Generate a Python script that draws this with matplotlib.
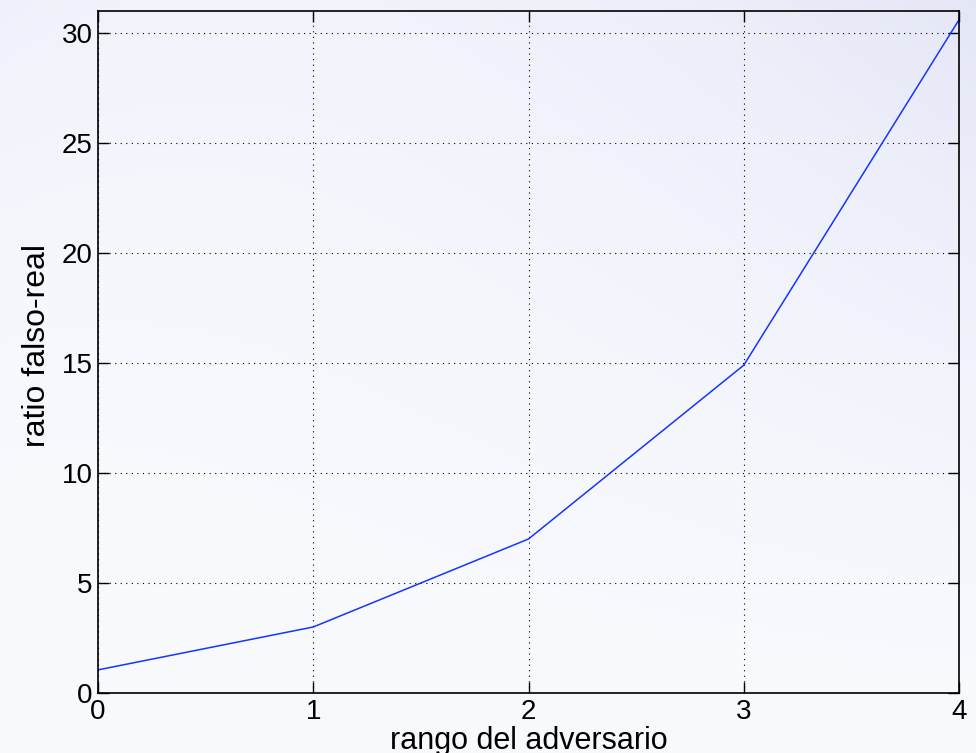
import matplotlib
matplotlib.use("Agg")
import matplotlib.pyplot as plt
import numpy as np

# datos
rango = [0, 1, 2, 3, 4]
ratio = [1.05, 3.0, 7.0, 14.9, 30.6]
yticks = [0, 5, 10, 15, 20, 25, 30]

plt.rcParams['font.family'] = ['Liberation Sans', 'DejaVu Sans']

fig = plt.figure(figsize=(9.76, 7.53), dpi=100)

# fondo degradado azulado
bg = fig.add_axes([0, 0, 1, 1], zorder=-10)
h, w = 753, 976
yy, xx = np.mgrid[0:1:h * 1j, 0:1:w * 1j]
t = 0.75 * ((1 - yy) * xx) ** 1.5 + 0.35 * ((1 - yy) * (1 - xx)) ** 2.5
t = np.clip(t, 0, 1)
light = np.array([0.975, 0.98, 0.995])
dark = np.array([0.87, 0.88, 0.96])
img = light[None, None, :] * (1 - t[..., None]) + dark[None, None, :] * t[..., None]
bg.imshow(img, aspect='auto', extent=[0, 1, 0, 1], origin='upper')
bg.axis('off')

ax = fig.add_axes([0.1004, 0.0797, 0.8822, 0.9057])
ax.patch.set_alpha(0)
ax.plot(rango, ratio, '-', color='#1535ff', linewidth=1.1)

ax.set_xlim(0, 4)
ax.set_ylim(0, 31)
ax.set_xticks(rango)
ax.set_yticks(yticks)
ax.grid(True, color='black', linestyle=(0, (1, 4)), linewidth=0.8)
ax.tick_params(axis='both', which='both', direction='in', top=True, right=True,
               length=8, width=1, labelsize=20, pad=4)
for s in ax.spines.values():
    s.set_linewidth(1.2)

ax.set_xlabel('rango del adversario', fontsize=22, labelpad=1)
ax.set_ylabel('ratio falso-real', fontsize=23)
ax.yaxis.set_label_coords(-0.053, 0.51)

fig.savefig('out.png', dpi=100)
